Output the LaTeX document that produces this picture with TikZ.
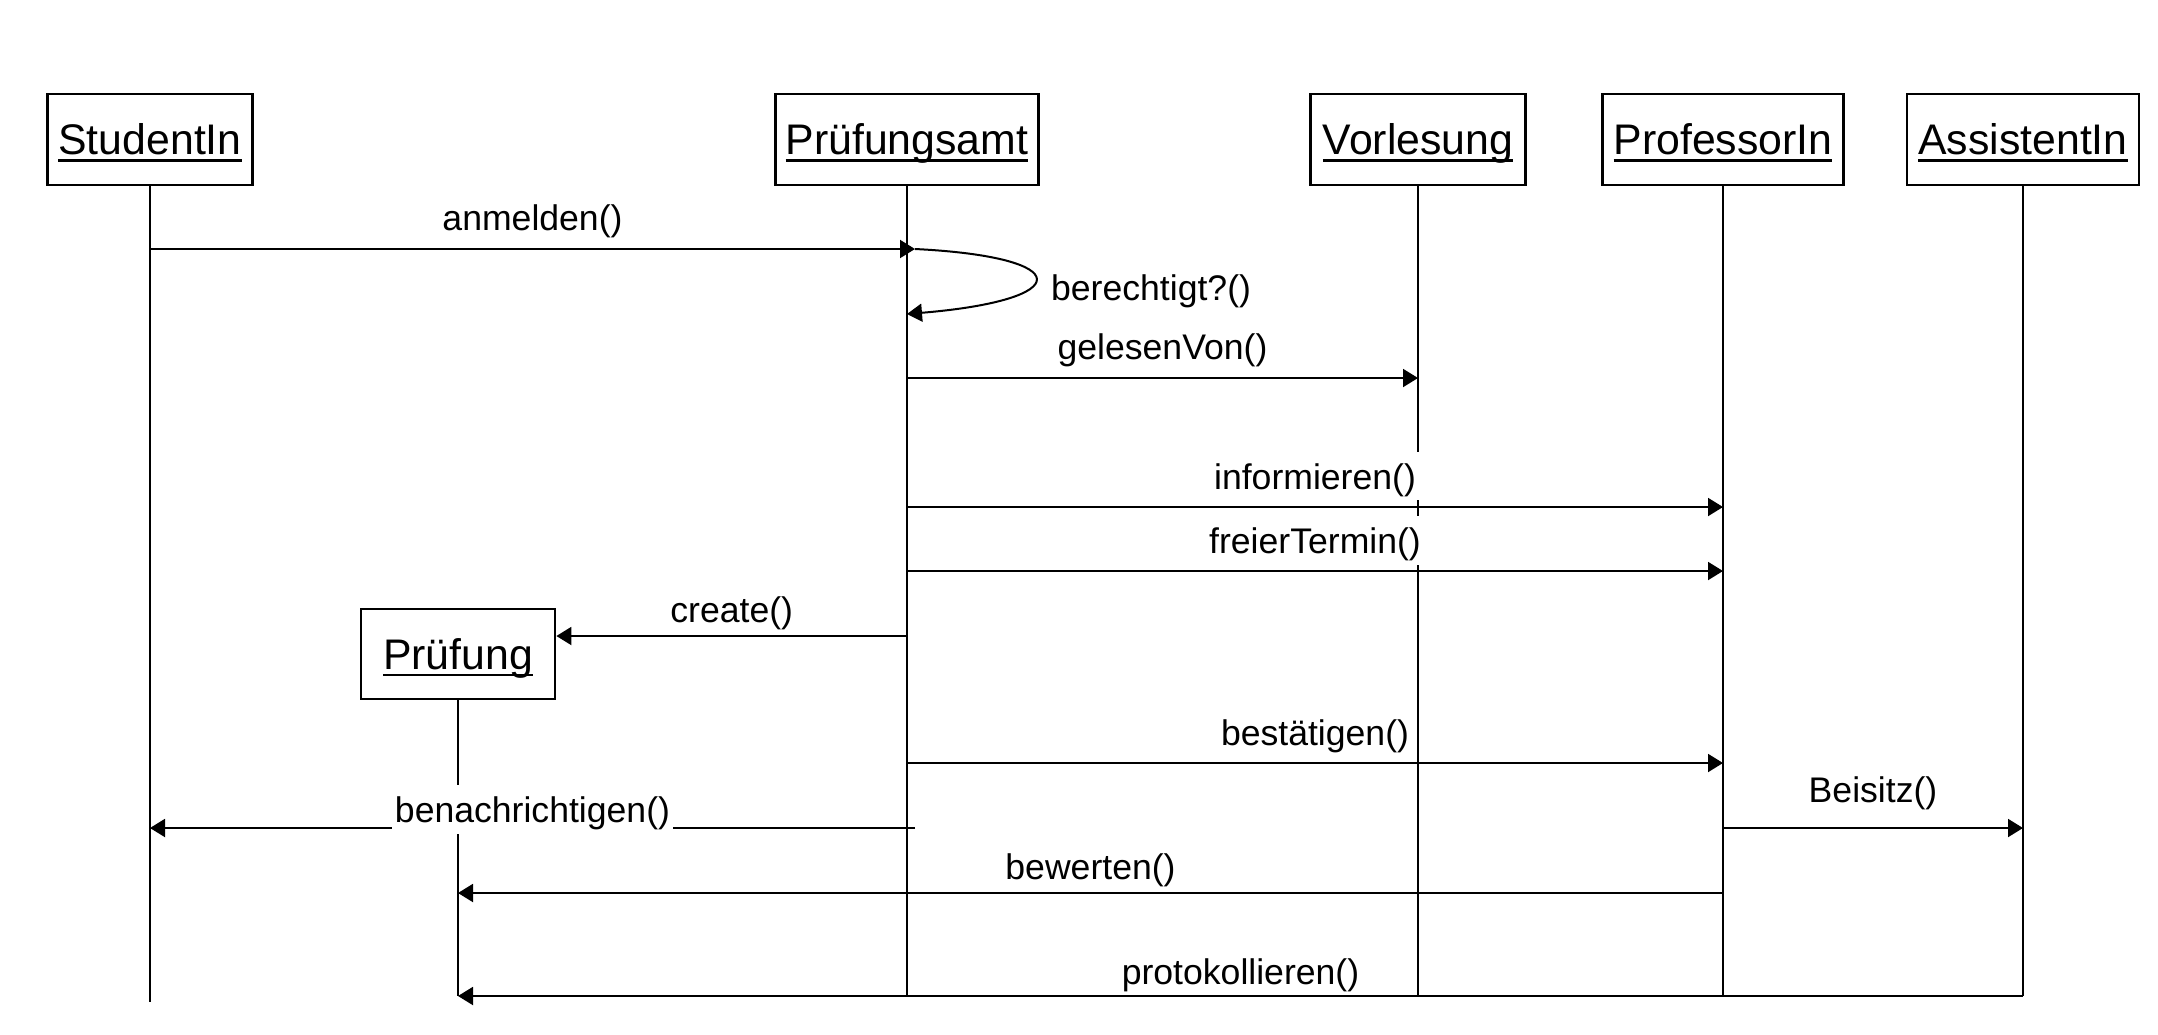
\documentclass[tikz,border=0pt]{standalone}
\usepackage{fontspec}
\setmainfont{Liberation Sans}
\usetikzlibrary{arrows.meta,calc}
\newcommand\ulbox[1]{\setbox0\hbox{#1}\rlap{\rule[-0.16em]{\wd0}{0.055em}}\box0}
\begin{document}
\begin{tikzpicture}[x=0.5pt,y=-0.5pt,
  actor/.style={draw, line width=1.4pt, minimum height=45.5pt, inner sep=0pt,
    text height=19.26pt, text depth=3.94pt, font=\fontsize{21.4pt}{24pt}\selectfont},
  life/.style={line width=1pt},
  msg/.style={line width=1pt, -{Triangle[length=7.5pt,width=9pt]}},
  lbl/.style={fill=white, inner xsep=1.5pt, inner ysep=0pt, text height=18.7pt,
    text depth=5.7pt, font=\fontsize{17.8pt}{20pt}\selectfont, anchor=base}
]
\useasboundingbox (0,0) rectangle (2158,1034);

% objects
\node[actor, minimum width=102.5pt] (stud) at (150,139.5) {\ulbox{StudentIn}};
\node[actor, minimum width=131.5pt] (pamt) at (907,139.5) {\ulbox{Prüfungsamt}};
\node[actor, minimum width=107.5pt] (vorl) at (1418,139.5) {\ulbox{Vorlesung}};
\node[actor, minimum width=120.5pt] (prof) at (1723,139.5) {\ulbox{ProfessorIn}};
\node[actor, minimum width=116pt] (assi) at (2023,139.5) {\ulbox{AssistentIn}};
\node[actor, minimum width=97pt, minimum height=45pt] (pruf) at (458,654) {\ulbox{Prüfung}};

% lifelines
\draw[life] (stud.south) -- (stud |- 0,1002);
\draw[life] (pamt.south) -- (pamt |- 0,996);
\draw[life] (vorl.south) -- (vorl |- 0,996);
\draw[life] (prof.south) -- (prof |- 0,996);
\draw[life] (assi.south) -- (assi |- 0,996);
\draw[life] (pruf.south) -- (pruf |- 0,996);

% messages
\coordinate (selfstart) at ($(pamt |- 0,249)+(8,0)$);
\draw[msg] (stud |- 0,249) -- node[lbl, yshift=9.25pt] {anmelden()} (selfstart);
\draw[msg] (selfstart) .. controls +(162,8) and +(169,-14) .. (pamt |- 0,314)
  node[lbl, pos=0.5, anchor=west, xshift=6pt, yshift=-4pt] {berechtigt?()};
\draw[msg] (pamt |- 0,378) -- node[lbl, yshift=9.5pt] {gelesenVon()} (vorl |- 0,378);
\draw[msg] (pamt |- 0,507) -- node[lbl, yshift=9pt] {informieren()} (prof |- 0,507);
\draw[msg] (pamt |- 0,571) -- node[lbl, yshift=8.75pt] {freierTermin()} (prof |- 0,571);
\draw[msg] (pamt |- 0,636) -- node[lbl, yshift=6.75pt] {create()} (pruf.east |- 0,636);
\draw[msg] (pamt |- 0,763) -- node[lbl, yshift=9pt] {bestätigen()} (prof |- 0,763);
\draw[msg] (prof |- 0,828) -- node[lbl, yshift=12.75pt] {Beisitz()} (assi |- 0,828);
\draw[msg] ($(pamt |- 0,828)+(8,0)$) -- node[lbl, yshift=2.75pt] {benachrichtigen()} (stud |- 0,828);
\draw[msg] (prof |- 0,893) -- node[lbl, yshift=7pt] {bewerten()} (pruf |- 0,893);
\draw[msg] (assi |- 0,996) -- node[lbl, yshift=6pt] {protokollieren()} (pruf |- 0,996);
\end{tikzpicture}
\end{document}
